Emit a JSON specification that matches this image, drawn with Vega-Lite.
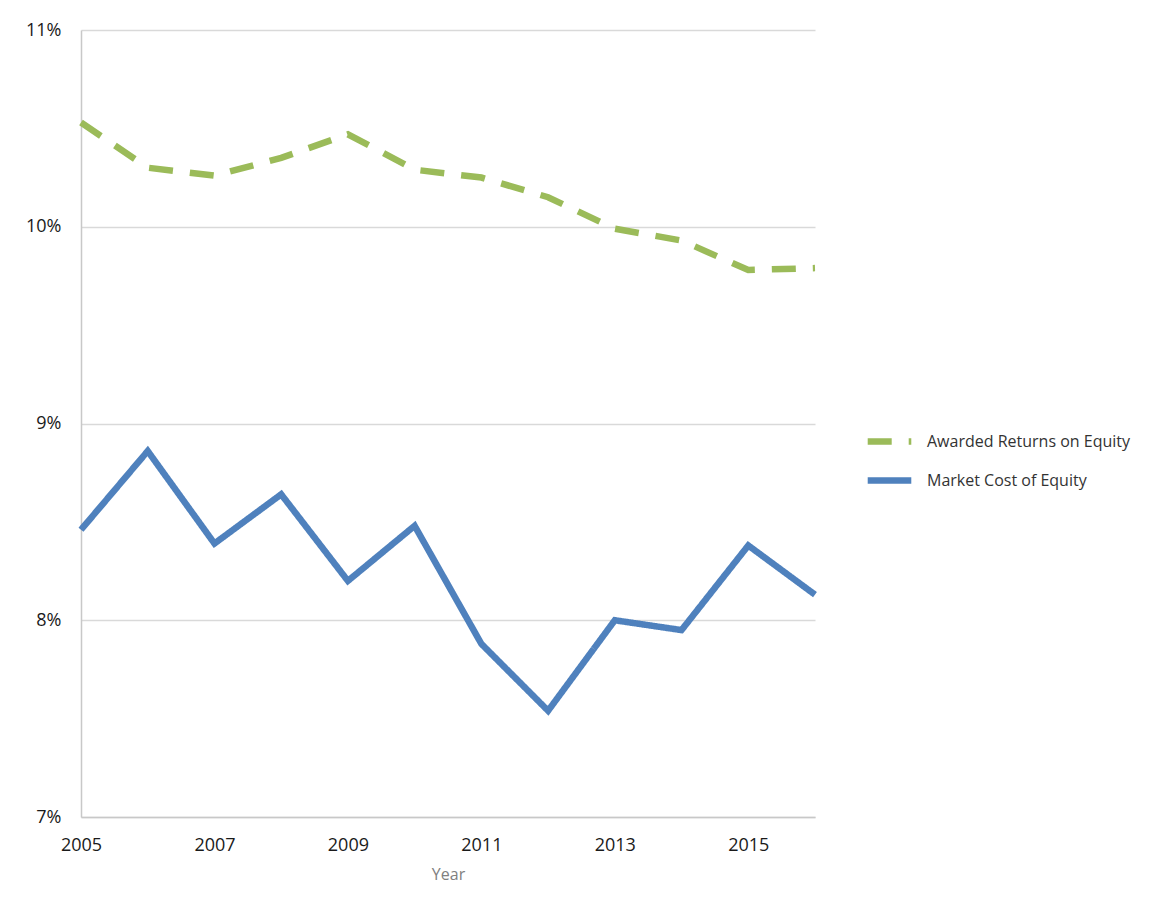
{
  "$schema": "https://vega.github.io/schema/vega-lite/v6.json",
  "autosize": {"type": "none"},
  "padding": {"left": 81, "top": 30, "right": 335, "bottom": 96},
  "width": 734,
  "height": 787,
  "background": "white",
  "config": {
    "font": "Open Sans",
    "view": {"stroke": null}
  },
  "data": {
    "values": [
      {"year": 2005, "series": "Awarded Returns on Equity", "value": 10.53},
      {"year": 2006, "series": "Awarded Returns on Equity", "value": 10.30},
      {"year": 2007, "series": "Awarded Returns on Equity", "value": 10.26},
      {"year": 2008, "series": "Awarded Returns on Equity", "value": 10.35},
      {"year": 2009, "series": "Awarded Returns on Equity", "value": 10.47},
      {"year": 2010, "series": "Awarded Returns on Equity", "value": 10.29},
      {"year": 2011, "series": "Awarded Returns on Equity", "value": 10.25},
      {"year": 2012, "series": "Awarded Returns on Equity", "value": 10.15},
      {"year": 2013, "series": "Awarded Returns on Equity", "value": 9.99},
      {"year": 2014, "series": "Awarded Returns on Equity", "value": 9.93},
      {"year": 2015, "series": "Awarded Returns on Equity", "value": 9.78},
      {"year": 2016, "series": "Awarded Returns on Equity", "value": 9.79},
      {"year": 2005, "series": "Market Cost of Equity", "value": 8.46},
      {"year": 2006, "series": "Market Cost of Equity", "value": 8.86},
      {"year": 2007, "series": "Market Cost of Equity", "value": 8.39},
      {"year": 2008, "series": "Market Cost of Equity", "value": 8.64},
      {"year": 2009, "series": "Market Cost of Equity", "value": 8.20},
      {"year": 2010, "series": "Market Cost of Equity", "value": 8.48},
      {"year": 2011, "series": "Market Cost of Equity", "value": 7.88},
      {"year": 2012, "series": "Market Cost of Equity", "value": 7.54},
      {"year": 2013, "series": "Market Cost of Equity", "value": 8.00},
      {"year": 2014, "series": "Market Cost of Equity", "value": 7.95},
      {"year": 2015, "series": "Market Cost of Equity", "value": 8.38},
      {"year": 2016, "series": "Market Cost of Equity", "value": 8.13}
    ]
  },
  "mark": {"type": "line", "strokeWidth": 6.5, "strokeCap": "butt", "strokeJoin": "miter"},
  "encoding": {
    "x": {
      "field": "year", "type": "quantitative",
      "scale": {"domain": [2005, 2016], "nice": false, "zero": false},
      "axis": {
        "title": "Year", "titleColor": "#808080", "titleFontSize": 16, "titleFontWeight": "normal", "titlePadding": 12,
        "values": [2005, 2007, 2009, 2011, 2013, 2015], "format": "d",
        "labelFontSize": 18, "labelColor": "#1a1a1a", "labelPadding": 19,
        "ticks": false, "grid": false, "domainColor": "#c8c8c8", "domainWidth": 1.5,
        "labelFlush": false
      }
    },
    "y": {
      "field": "value", "type": "quantitative",
      "scale": {"domain": [7, 11], "nice": false, "zero": false},
      "axis": {
        "title": null, "values": [7, 8, 9, 10, 11],
        "labelExpr": "datum.value + '%'",
        "labelFontSize": 18, "labelColor": "#1a1a1a", "labelPadding": 20,
        "ticks": false, "grid": true, "gridColor": "#d9d9d9", "gridWidth": 1.5,
        "domainColor": "#c8c8c8", "domainWidth": 1.5
      }
    },
    "color": {
      "field": "series", "type": "nominal",
      "scale": {"domain": ["Awarded Returns on Equity", "Market Cost of Equity"], "range": ["#9BBB59", "#4F81BD"]},
      "legend": {
        "title": null, "orient": "none", "legendX": 783, "legendY": 386,
        "labelFontSize": 16, "labelColor": "#333333", "labelOffset": 12, "labelLimit": 400,
        "symbolType": "stroke", "symbolSize": 1900, "symbolStrokeWidth": 6.5,
        "rowPadding": 0
      }
    },
    "strokeDash": {
      "field": "series", "type": "nominal",
      "scale": {"domain": ["Awarded Returns on Equity", "Market Cost of Equity"], "range": [[24, 17], [1, 0]]},
      "legend": null
    }
  }
}
